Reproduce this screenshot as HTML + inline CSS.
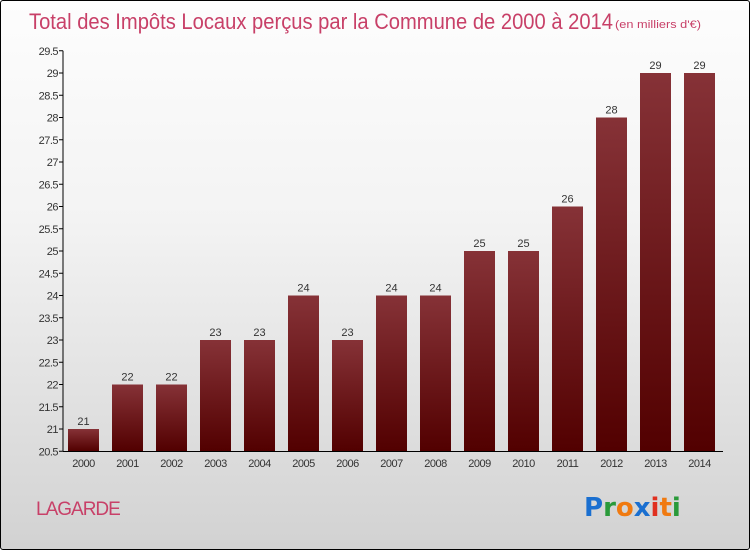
<!DOCTYPE html>
<html><head><meta charset="utf-8"><style>
body{margin:0;width:750px;height:550px;overflow:hidden;font-family:"Liberation Sans",sans-serif}
#frame{position:absolute;left:0;top:0;width:748px;height:548px;border:1px solid #000;border-radius:3px;background:linear-gradient(#fdfdfd,#f3f3f3 40%,#d2d2d2)}
</style></head><body>
<div id="frame">
<svg width="750" height="550" id="chart"></svg>
</div>
<script>
const years=["2000","2001","2002","2003","2004","2005","2006","2007","2008","2009","2010","2011","2012","2013","2014"];
const values=[21,22,22,23,23,24,23,24,24,25,25,26,28,29,29];
const yTicks=[20.5,21,21.5,22,22.5,23,23.5,24,24.5,25,25.5,26,26.5,27,27.5,28,28.5,29,29.5];
const NS="http://www.w3.org/2000/svg";
const svg=document.getElementById('chart');
function mk(t,a,txt){const e=document.createElementNS(NS,t);for(const k in a)e.setAttribute(k,a[k]);if(txt!==undefined)e.textContent=txt;svg.appendChild(e);return e;}
const y=v=>450.25-(v-20.5)*44.5;
const x=i=>67+i*44;
const bw=31;
const defs=mk('defs',{});
defs.innerHTML='<linearGradient id="bg" x1="0" y1="0" x2="0" y2="1"><stop offset="0" stop-color="#863237"/><stop offset="1" stop-color="#520000"/></linearGradient>';
let t=mk('text',{x:28,y:28,'font-size':22,fill:'#c84068',textLength:584,lengthAdjust:'spacingAndGlyphs'},'Total des Impôts Locaux perçus par la Commune de 2000 à 2014');

t=mk('text',{x:614,y:27,'font-size':11,fill:'#c84068',textLength:86,lengthAdjust:'spacingAndGlyphs'},'(en milliers d\'€)');

let ax=mk('line',{x1:62,y1:y(29.5),x2:62,y2:y(20.5),stroke:'#000'});

ax=mk('line',{x1:62,y1:450.5,x2:722,y2:450.5,stroke:'#000'});

yTicks.forEach(v=>{
 const l=mk('line',{x1:58,x2:62,y1:y(v),y2:y(v),stroke:'#000'});
 
 const tt=mk('text',{x:57,y:y(v)+4,'font-size':11,'text-anchor':'end',fill:'#333','letter-spacing':'-0.5'},String(v));
 
});
years.forEach((yr,i)=>{
 const b=mk('rect',{x:x(i),y:y(values[i]),width:bw,height:450-y(values[i]),fill:'url(#bg)'});
 
 const v=mk('text',{x:x(i)+bw/2,y:y(values[i])-4,'font-size':11,'text-anchor':'middle',fill:'#333'},String(values[i]));
 
 const l=mk('text',{x:x(i)+bw/2,y:466,'font-size':11,'text-anchor':'middle',fill:'#333','letter-spacing':'-0.5'},yr);
 
});
t=mk('text',{x:35,y:514,'font-size':19,fill:'#c84068','letter-spacing':'-1'},'LAGARDE');

const logo=mk('text',{x:583,y:515,'font-size':26,'font-weight':'bold','font-family':'DejaVu Sans, sans-serif'},'');

[['P','#1a6fd0'],['r','#2a9a3a'],['o','#f07a10'],['x','#1a6fd0'],['i','#e03020'],['t','#f07a10'],['i','#2a9a3a']].forEach(([c,f])=>{const s=document.createElementNS(NS,'tspan');s.setAttribute('fill',f);s.textContent=c;logo.appendChild(s);});
</script>
</body></html>
